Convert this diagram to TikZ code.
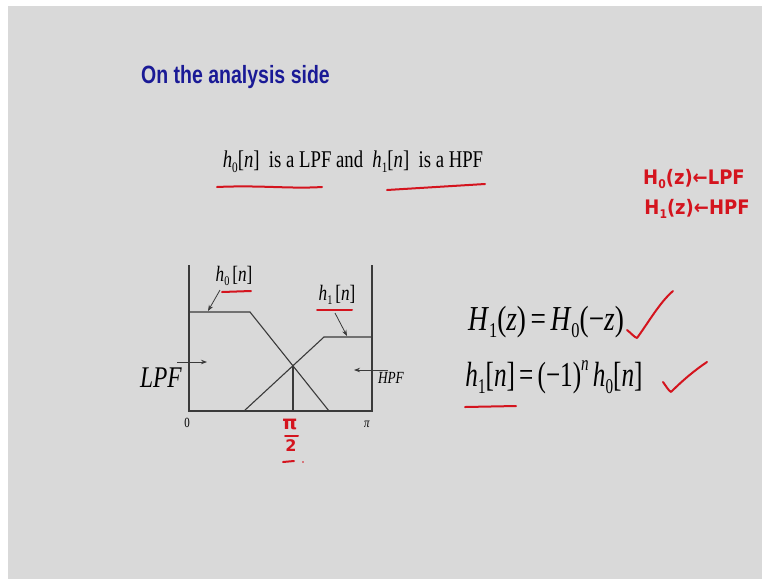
\documentclass[tikz,border=0pt]{standalone}
\usepackage{fontspec}
\setmainfont{Liberation Serif}
\newfontfamily\arialfont{Liberation Sans}
\newfontfamily\handfont{DejaVu Sans}
\usetikzlibrary{arrows.meta}
\definecolor{slidegray}{HTML}{D9D9D9}
\definecolor{axisgray}{HTML}{3A3A3A}
\definecolor{redink}{HTML}{D4141E}
\definecolor{titleblue}{HTML}{1A1A96}
\newcommand{\sq}[1]{\scalebox{0.78}[1]{#1}}
\newcommand{\mi}[1]{\textit{#1}}
\newcommand{\fs}[1]{\fontsize{#1}{#1}\selectfont}
\newcommand{\subs}[1]{\raisebox{-0.2em}{\scalebox{0.6}{#1}}}
\newcommand{\sups}[1]{\raisebox{0.45em}{\scalebox{0.6}{#1}}}
\tikzset{
  axisline/.style={draw=axisgray, line width=1.1pt},
  pointer/.style={draw=axisgray, line width=0.8pt, -{Stealth[length=6pt,width=4.5pt]}},
  redmark/.style={draw=redink, line width=2pt, line cap=round, line join=round},
  txt/.style={inner sep=0pt, outer sep=0pt, anchor=center},
  hand/.style={txt, text=redink, font=\handfont},
}
\begin{document}
\begin{tikzpicture}[x=1pt,y=-1pt]
\fill[white] (0,0) rectangle (762,579);
\fill[slidegray] (8,6) rectangle (762,579);
\useasboundingbox (0,0) rectangle (762,579);

% title
\node[txt, text=titleblue, font=\arialfont\bfseries\fs{25}] (title) at (235.5,77) {\sq{On the analysis side}};

% sentence
\node[txt, font=\fs{24}] (sent) at (353,162) {\sq{\mi{h}\subs{0}[\mi{n}]\ \ is a LPF and\ \ \mi{h}\subs{1}[\mi{n}]\ \ is a HPF}};
\draw[redmark] (217,187) .. controls (260,185) and (290,189) .. (322,187);
\draw[redmark] (387,190) -- (485,184);

% handwritten top right
\node[hand, font=\handfont\bfseries\fs{20}] (hz0) at (694,179) {\scalebox{0.9}[1]{H\subs{0}(z)←LPF}};
\node[hand, font=\handfont\bfseries\fs{20}] (hz1) at (697,209) {\scalebox{0.9}[1]{H\subs{1}(z)←HPF}};

% diagram frame
\coordinate (tl) at (189,265);
\coordinate (bl) at (189,411);
\coordinate (br) at (372,411);
\coordinate (tr) at (372,265);
\draw[axisline] (tl) -- (bl) -- (br) -- (tr);
% h0 curve
\coordinate (h0a) at (189,312);
\coordinate (h0b) at (250,312);
\coordinate (h0c) at (329,411);
\draw[axisline] (h0a) -- (h0b) -- (h0c);
% h1 curve
\coordinate (h1a) at (244,411);
\coordinate (h1b) at (324,337);
\coordinate (h1c) at (372,337);
\draw[axisline] (h1a) -- (h1b) -- (h1c);
% crossing
\coordinate (cross) at (293,366);
\coordinate (crossb) at (293,411);
\draw[axisline] (cross) -- (crossb);

% labels in diagram
\node[txt, font=\fs{22}] (lh0) at (234,276) {\sq{\mi{h}\subs{0}\,[\mi{n}]}};
\node[txt, font=\fs{22}] (lh1) at (337,295) {\sq{\mi{h}\subs{1}\,[\mi{n}]}};
\coordinate (lh0tail) at (220,290);
\coordinate (lh0tip) at (208,311);
\draw[pointer] (lh0tail) -- (lh0tip);
\coordinate (lh1tail) at (335,313);
\coordinate (lh1tip) at (347,336);
\draw[pointer] (lh1tail) -- (lh1tip);
\draw[redmark] (222,292) -- (251,291);
\draw[redmark] (317,310) -- (352,310);

\node[txt, font=\fs{30}] (lpf) at (161,378) {\sq{\mi{LPF}}};
\coordinate (lpftail) at (177,362);
\coordinate (lpftip) at (207,362);
\draw[pointer] (lpftail) -- (lpftip);
\node[txt, font=\fs{17}] (hpf) at (391,378) {\sq{\mi{HPF}}};
\coordinate (hpftail) at (388,370);
\coordinate (hpftip) at (354,370);
\draw[pointer] (hpftail) -- (hpftip);

\node[txt, font=\fs{14}] (zero) at (187,423) {\sq{0}};
\node[txt, font=\fs{14}] (pi) at (367,424) {\sq{\mi{π}}};

% handwritten pi/2
\node[hand, font=\handfont\bfseries\fs{19}] (hpi) at (290,424) {π};
\draw[redmark] (285,436) -- (298,436);
\node[hand, font=\handfont\bfseries\fs{16}] (htwo) at (291,446) {2};
\draw[redmark] (283,462) -- (294,461);
\fill[redink] (303,462) circle (0.9);

% equations
\node[txt, font=\fs{35}] (eq1) at (546,322) {\sq{\mi{H}\subs{1}(\mi{z})\,=\,\mi{H}\subs{0}(−\mi{z})}};
\node[txt, font=\fs{35}] (eq2) at (554,377) {\scalebox{0.72}[1]{\mi{h}\subs{1}[\mi{n}]\,=\,(−1)\sups{\mi{n}}\,\mi{h}\subs{0}[\mi{n}]}};
\draw[redmark] (465,407) -- (516,406);
\draw[redmark] (627,330) .. controls (631,333) and (634,337) .. (637,338) .. controls (648,323) and (660,302) .. (673,291);
\draw[redmark] (663,382) .. controls (666,386) and (668,390) .. (671,392) .. controls (683,380) and (695,370) .. (707,362);
\end{tikzpicture}
\end{document}
